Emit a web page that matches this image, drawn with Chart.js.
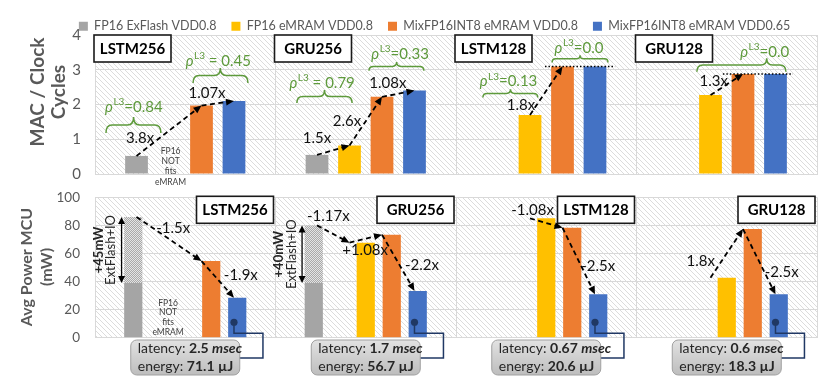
<!DOCTYPE html>
<html><head><meta charset="utf-8">
<script src="https://cdn.jsdelivr.net/npm/chart.js@4"></script>
<style>
html,body{margin:0;padding:0;background:#fff;}
#wrap{position:relative;width:831px;height:380px;overflow:hidden;}
#c1{position:absolute;left:0;top:0;}
#c2{position:absolute;left:0;top:185px;}
</style></head><body>
<div id="wrap"><canvas id="c1" width="831" height="185"></canvas><canvas id="c2" width="831" height="195"></canvas></div>
<script>
// ---------- DATA ----------
const categories = ['LSTM256', 'GRU256', 'LSTM128', 'GRU128'];
const seriesLabels = ['FP16 ExFlash VDD0.8', 'FP16 eMRAM VDD0.8', 'MixFP16INT8 eMRAM VDD0.8', 'MixFP16INT8 eMRAM VDD0.65'];
const seriesColors = ['#A5A5A5', '#FFC000', '#ED7D31', '#4472C4'];

const macFp16Flash = [0.52, 0.55, null, null];
const macFp16Mram  = [null, 0.82, 1.70, 2.27];
const macMixV08    = [1.97, 2.22, 3.09, 2.88];
const macMixV065   = [2.10, 2.40, 3.09, 2.88];
const macTicks     = [0, 1, 2, 3, 4];

const powFp16Flash  = [39, 39, null, null];
const powExtFlashIO = [47, 41, null, null];
const powFp16Mram   = [null, 67.7, 85.0, 42.7];
const powMixV08     = [54.6, 73.4, 78.3, 77.4];
const powMixV065    = [28.5, 33.3, 30.9, 30.9];
const powTicks      = [0, 20, 40, 60, 80, 100];

const latencyMs = ['2.5', '1.7', '0.67', '0.6'];
const energyUJ  = ['71.1', '56.7', '20.6', '18.3'];
const extPowerLabels = ['+45mW', '+40mW'];

// ---------- STYLE ----------
const FONT = 'Lato, "Noto Sans", sans-serif';
Chart.defaults.font.family = FONT;
Chart.defaults.color = '#595959';
const GRID = '#d9d9d9';
const GREEN = '#5E9A3C';

function mkPattern(size, draw) {
  const c = document.createElement('canvas'); c.width = c.height = size;
  const g = c.getContext('2d'); draw(g, size);
  return g.createPattern(c, 'repeat');
}
const hatchBg = mkPattern(5, (g, s) => {
  g.fillStyle = '#ffffff'; g.fillRect(0, 0, s, s);
  g.strokeStyle = '#dcdcdc'; g.lineWidth = 1;
  for (let k = -1; k <= 1; k++) { g.beginPath(); g.moveTo(k * s, 0); g.lineTo(k * s + s, s); g.stroke(); }
});
const extPattern = mkPattern(2, (g) => {
  g.fillStyle = '#e4e4e4'; g.fillRect(0, 0, 2, 2);
  g.fillStyle = '#a9a9a9'; g.fillRect(0, 0, 1, 1); g.fillRect(1, 1, 1, 1);
});

// ---------- HELPERS ----------
function slotX(chart, cat, s) {
  const xs = chart.scales.x;
  const c = xs.getPixelForValue(cat);
  const catW = xs.getPixelForValue(1) - xs.getPixelForValue(0);
  return c + (s - 1.5) * catW * 0.72 / 4;
}
function panelEdges(chart, cat) {
  const xs = chart.scales.x;
  const c = xs.getPixelForValue(cat);
  const catW = xs.getPixelForValue(1) - xs.getPixelForValue(0);
  return [c - catW / 2, c + catW / 2];
}
function vy(chart, v) { return chart.scales.y.getPixelForValue(v); }
function txt(ctx, s, x, y, font, color, align, base) {
  ctx.font = font; ctx.fillStyle = color; ctx.textAlign = align || 'center'; ctx.textBaseline = base || 'middle';
  ctx.fillText(s, x, y);
}
function rich(ctx, segs, x, y, color) {
  ctx.textBaseline = 'middle'; ctx.textAlign = 'left'; ctx.fillStyle = color;
  let cx = x;
  segs.forEach(([t, f]) => { ctx.font = f; ctx.fillText(t, cx, y); cx += ctx.measureText(t).width; });
}
function arrowHead(ctx, x0, y0, x1, y1, len, wid) {
  const a = Math.atan2(y1 - y0, x1 - x0);
  ctx.beginPath();
  ctx.moveTo(x1, y1);
  ctx.lineTo(x1 - len * Math.cos(a) + wid / 2 * Math.sin(a), y1 - len * Math.sin(a) - wid / 2 * Math.cos(a));
  ctx.lineTo(x1 - len * Math.cos(a) - wid / 2 * Math.sin(a), y1 - len * Math.sin(a) + wid / 2 * Math.cos(a));
  ctx.closePath(); ctx.fill();
}
function chain(chart, cat, pts) {
  const ctx = chart.ctx;
  ctx.save(); ctx.strokeStyle = '#000'; ctx.fillStyle = '#000'; ctx.lineWidth = 1.8;
  for (let i = 1; i < pts.length; i++) {
    const x0 = slotX(chart, cat, pts[i - 1][0]), y0 = vy(chart, pts[i - 1][1]);
    const x1 = slotX(chart, cat, pts[i][0]), y1 = vy(chart, pts[i][1]);
    const a = Math.atan2(y1 - y0, x1 - x0);
    ctx.setLineDash([5, 3.5]);
    ctx.beginPath(); ctx.moveTo(x0, y0); ctx.lineTo(x1 - 6 * Math.cos(a), y1 - 6 * Math.sin(a)); ctx.stroke();
    ctx.setLineDash([]);
    arrowHead(ctx, x0, y0, x1, y1, 8, 7);
  }
  ctx.restore();
}
function brace(chart, cat, s1, s2, st, vEnd, vTip) {
  const ctx = chart.ctx;
  const x1 = slotX(chart, cat, s1), x2 = slotX(chart, cat, s2), xt = slotX(chart, cat, st);
  const yb = vy(chart, vEnd), yt = vy(chart, vTip);
  const h = yb - yt, r = Math.min(h / 2, 6);
  const ym = yb - h / 2;
  ctx.save(); ctx.strokeStyle = GREEN; ctx.lineWidth = 1.5;
  ctx.beginPath();
  ctx.moveTo(x1, yb);
  ctx.quadraticCurveTo(x1, ym, x1 + r, ym);
  ctx.lineTo(xt - r, ym);
  ctx.quadraticCurveTo(xt, ym, xt, yt);
  ctx.quadraticCurveTo(xt, ym, xt + r, ym);
  ctx.lineTo(x2 - r, ym);
  ctx.quadraticCurveTo(x2, ym, x2, yb);
  ctx.stroke(); ctx.restore();
}
function rho(chart, cat, s, v, rest) {
  const ctx = chart.ctx;
  const fMain = '15px ' + FONT, fRho = 'italic 15px ' + FONT, fSup = '10px ' + FONT;
  ctx.font = fRho; const w1 = ctx.measureText('\u03C1').width;
  ctx.font = fSup; const w2 = ctx.measureText('L3').width;
  ctx.font = fMain; const w3 = ctx.measureText(rest).width;
  const cx = slotX(chart, cat, s), y = vy(chart, v);
  let x = cx - (w1 + w2 + w3) / 2;
  txt(ctx, '\u03C1', x, y, fRho, GREEN, 'left'); x += w1 + 0.5;
  txt(ctx, 'L3', x, y - 5, fSup, GREEN, 'left'); x += w2;
  txt(ctx, rest, x, y, fMain, GREEN, 'left');
}
function label(chart, t, cat, s, v) {
  txt(chart.ctx, t, slotX(chart, cat, s), vy(chart, v), '15px ' + FONT, '#111');
}
function nameBox(chart, cat, x, y) {
  const ctx = chart.ctx;
  ctx.save();
  ctx.fillStyle = '#fff'; ctx.fillRect(x, y, 77, 27);
  ctx.strokeStyle = '#1a1a1a'; ctx.lineWidth = 1.6; ctx.strokeRect(x, y, 77, 27);
  txt(ctx, categories[cat], x + 38.5, y + 14, 'bold 15px ' + FONT, '#000');
  ctx.restore();
}
function dotted(chart, cat, s1, s2, v) {
  const ctx = chart.ctx; const y = vy(chart, v);
  ctx.save(); ctx.strokeStyle = '#000'; ctx.lineWidth = 1.5; ctx.setLineDash([1.5, 2]);
  ctx.beginPath(); ctx.moveTo(slotX(chart, cat, s1), y); ctx.lineTo(slotX(chart, cat, s2), y); ctx.stroke();
  ctx.restore();
}
function notFits(chart, cat, s, v, lh) {
  const ctx = chart.ctx; const x = slotX(chart, cat, s); const y = vy(chart, v);
  ['FP16', 'NOT', 'fits', 'eMRAM'].forEach((t, i) => txt(ctx, t, x, y + i * lh, '8.5px ' + FONT, '#404040'));
}
function yTitle(chart, lines, xs, yc, font) {
  const ctx = chart.ctx;
  lines.forEach((t, i) => {
    ctx.save(); ctx.translate(xs[i], yc); ctx.rotate(-Math.PI / 2);
    txt(ctx, t, 0, 0, font, '#595959'); ctx.restore();
  });
}
function noPad(s) { s.paddingTop = 0; s.paddingBottom = 0; s.paddingLeft = 0; s.paddingRight = 0; }

const bgPlugin = {
  id: 'hatchBg',
  beforeDraw(chart) {
    const a = chart.chartArea, ctx = chart.ctx;
    ctx.save(); ctx.fillStyle = hatchBg; ctx.fillRect(a.left, a.top, a.right - a.left, a.bottom - a.top); ctx.restore();
  }
};
const legendFix = {
  id: 'legendFix',
  beforeLayout(chart) {
    const lg = chart.legend;
    if (lg && !lg._fixed) {
      const f = lg.fit;
      lg.fit = function () { f.call(this); this.height = 30; };
      lg._fixed = true;
    }
  }
};

// ---------- TOP CHART ----------
const topNotes = {
  id: 'topNotes',
  afterDraw(chart) {
    yTitle(chart, ['MAC / Clock', 'Cycles'], [38, 59], 92, 'bold 19px ' + FONT);
    categories.forEach((c, i) => nameBox(chart, i, panelEdges(chart, i)[0] - 1, chart.chartArea.top));
    brace(chart, 0, -0.94, 0.75, -0.09, 1.18, 1.64);
    brace(chart, 0, 1.74, 3.43, 2.58, 2.62, 3.05);
    brace(chart, 1, -0.62, 1.08, 0.23, 2.04, 2.42);
    brace(chart, 1, 1.60, 3.29, 2.45, 2.97, 3.22);
    brace(chart, 2, -0.45, 1.24, 0.40, 2.20, 2.44);
    brace(chart, 2, 1.68, 3.40, 2.54, 3.21, 3.42);
    brace(chart, 3, 0.58, 3.32, 2.73, 2.94, 3.33);
    rho(chart, 0, -0.09, 1.93, '=0.84');
    rho(chart, 0, 2.51, 3.25, ' = 0.45');
    rho(chart, 1, 0.15, 2.62, ' = 0.79');
    rho(chart, 1, 2.55, 3.45, '=0.33');
    rho(chart, 2, 0.33, 2.66, '=0.13');
    rho(chart, 2, 2.50, 3.63, '=0.0');
    rho(chart, 3, 2.66, 3.52, '=0.0');
    dotted(chart, 2, 1.46, 3.62, macMixV08[2]);
    dotted(chart, 3, 1.38, 3.54, macMixV08[3]);
    chain(chart, 0, [[0, macFp16Flash[0]], [2, macMixV08[0]], [3, macMixV065[0]]]);
    chain(chart, 1, [[0, macFp16Flash[1]], [1, macFp16Mram[1]], [2, macMixV08[1]], [3, macMixV065[1]]]);
    chain(chart, 2, [[1, macFp16Mram[2]], [2, macMixV08[2]]]);
    chain(chart, 3, [[1, macFp16Mram[3]], [2, macMixV08[3]]]);
    label(chart, '3.8x', 0, 0.11, 1.03);
    label(chart, '1.07x', 0, 2.17, 2.33);
    label(chart, '1.5x', 1, 0.0, 1.03);
    label(chart, '2.6x', 1, 0.92, 1.53);
    label(chart, '1.08x', 1, 2.18, 2.62);
    label(chart, '1.8x', 2, 0.72, 1.99);
    label(chart, '1.3x', 3, 1.10, 2.66);
    notFits(chart, 0, 1.05, 0.66, 10.3);
  }
};

const barDs = (label, data, color, extra) => Object.assign({
  label, data, backgroundColor: color, borderWidth: 0,
  categoryPercentage: 0.72, barPercentage: 0.7
}, extra || {});

new Chart(document.getElementById('c1'), {
  type: 'bar',
  data: {
    labels: categories,
    datasets: [
      barDs(seriesLabels[0], macFp16Flash, seriesColors[0]),
      barDs(seriesLabels[1], macFp16Mram, seriesColors[1]),
      barDs(seriesLabels[2], macMixV08, seriesColors[2]),
      barDs(seriesLabels[3], macMixV065, seriesColors[3])
    ]
  },
  options: {
    responsive: false, animation: false,
    layout: { padding: { left: 52, right: 14, top: 5, bottom: 11 } },
    plugins: {
      legend: { position: 'top', labels: { boxWidth: 9, boxHeight: 9, padding: 15, color: '#595959', font: { size: 12.5 } } },
      tooltip: { enabled: false }
    },
    scales: {
      x: { grid: { offset: true, color: GRID, drawTicks: false }, border: { color: GRID }, ticks: { display: false },
           afterFit: s => { s.height = 0; noPad(s); } },
      y: { min: 0, max: 4,
           afterBuildTicks: s => { s.ticks = macTicks.map(v => ({ value: v })); },
           grid: { color: GRID, drawTicks: false }, border: { display: false },
           ticks: { padding: 14, color: '#595959', font: { size: 15 } },
           afterFit: s => { s.width = 43; noPad(s); } }
    }
  },
  plugins: [legendFix, bgPlugin, topNotes]
});

// ---------- BOTTOM CHART ----------
const botNotes = {
  id: 'botNotes',
  afterDraw(chart) {
    const ctx = chart.ctx, a = chart.chartArea;
    yTitle(chart, ['Avg Power MCU', '(mW)'], [27, 47], 82, 'bold 16px ' + FONT);
    categories.forEach((c, i) => nameBox(chart, i, panelEdges(chart, i)[1] - 79, a.top - 1));
    [0, 1].forEach(i => {
      const x = slotX(chart, i, -0.46);
      const y0 = vy(chart, powFp16Flash[i]), y1 = vy(chart, powFp16Flash[i] + powExtFlashIO[i]);
      ctx.save(); ctx.strokeStyle = '#000'; ctx.fillStyle = '#000'; ctx.lineWidth = 1.3;
      ctx.beginPath(); ctx.moveTo(x, y0 - 5); ctx.lineTo(x, y1 + 5); ctx.stroke();
      arrowHead(ctx, x, y0 - 10, x, y1, 7, 7);
      arrowHead(ctx, x, y1 + 10, x, y0, 7, 7);
      ctx.restore();
      const ym = (y0 + y1) / 2;
      ctx.save(); ctx.translate(slotX(chart, i, -1.17), ym); ctx.rotate(-Math.PI / 2);
      txt(ctx, extPowerLabels[i], 0, 0, 'bold 13px ' + FONT, '#262626'); ctx.restore();
      ctx.save(); ctx.translate(slotX(chart, i, -0.79), ym); ctx.rotate(-Math.PI / 2);
      txt(ctx, 'ExtFlash+IO', 0, 0, '13px ' + FONT, '#262626'); ctx.restore();
    });
    chain(chart, 0, [[0, powFp16Flash[0] + powExtFlashIO[0]], [2, powMixV08[0]], [3, powMixV065[0]]]);
    chain(chart, 1, [[0, powFp16Flash[1] + powExtFlashIO[1]], [1, powFp16Mram[1]], [2, powMixV08[1]], [3, powMixV065[1]]]);
    chain(chart, 2, [[1, powFp16Mram[2]], [2, powMixV08[2]], [3, powMixV065[2]]]);
    chain(chart, 3, [[1, powFp16Mram[3]], [2, powMixV08[3]], [3, powMixV065[3]]]);
    label(chart, '-1.5x', 0, 1.13, 78.3);
    label(chart, '-1.9x', 0, 3.21, 44.2);
    label(chart, '-1.17x', 1, 0.35, 86.9);
    label(chart, '+1.08x', 1, 1.48, 62.5);
    label(chart, '-2.2x', 1, 3.23, 51.8);
    label(chart, '-1.08x', 2, 1.08, 91);
    label(chart, '-2.5x', 2, 3.10, 51.3);
    label(chart, '1.8x', 3, 0.70, 54.6);
    label(chart, '-2.5x', 3, 3.19, 46.6);
    notFits(chart, 0, 0.97, 24.7, 9.7);
    categories.forEach((c, i) => {
      const cx = chart.scales.x.getPixelForValue(i);
      const bx = cx - 54.5, bw = 109, by = a.bottom + 2.3, bh = 35;
      const dx = slotX(chart, i, 3), dy = vy(chart, 11);
      const rx = cx + 77.7, yA = a.bottom - 4.5, yB = a.bottom + 20.3;
      ctx.save();
      ctx.strokeStyle = '#203864'; ctx.lineWidth = 1.5;
      ctx.beginPath(); ctx.moveTo(dx, dy); ctx.lineTo(dx, yA); ctx.lineTo(rx, yA); ctx.lineTo(rx, yB); ctx.lineTo(bx + bw - 2, yB); ctx.stroke();
      ctx.fillStyle = '#203864'; ctx.beginPath(); ctx.arc(dx, dy, 3.6, 0, Math.PI * 2); ctx.fill();
      const gr = ctx.createLinearGradient(0, by, 0, by + bh);
      gr.addColorStop(0, '#e2e2e2'); gr.addColorStop(1, '#bdbdbd');
      ctx.fillStyle = gr; ctx.strokeStyle = '#a0a0a0'; ctx.lineWidth = 1;
      ctx.beginPath(); ctx.roundRect(bx, by, bw, bh, 6); ctx.fill(); ctx.stroke();
      rich(ctx, [['latency: ', '14px ' + FONT], [latencyMs[i] + ' ', 'bold 14px ' + FONT], ['msec', 'italic bold 14px ' + FONT]], bx + 7, by + 8.6, '#262626');
      rich(ctx, [['energy: ', '14px ' + FONT], [energyUJ[i] + ' \u00B5J', 'bold 14px ' + FONT]], bx + 7, by + 26.6, '#262626');
      ctx.restore();
    });
  }
};

new Chart(document.getElementById('c2'), {
  type: 'bar',
  data: {
    labels: categories,
    datasets: [
      barDs(seriesLabels[0], powFp16Flash, seriesColors[0], { stack: 'a' }),
      barDs('ExtFlash+IO', powExtFlashIO, extPattern, { stack: 'a' }),
      barDs(seriesLabels[1], powFp16Mram, seriesColors[1], { stack: 'b' }),
      barDs(seriesLabels[2], powMixV08, seriesColors[2], { stack: 'c' }),
      barDs(seriesLabels[3], powMixV065, seriesColors[3], { stack: 'd' })
    ]
  },
  options: {
    responsive: false, animation: false,
    layout: { padding: { left: 27, right: 14, top: 12.3, bottom: 42.3 } },
    plugins: { legend: { display: false }, tooltip: { enabled: false } },
    scales: {
      x: { stacked: false, grid: { offset: true, color: GRID, drawTicks: false }, border: { color: GRID }, ticks: { display: false },
           afterFit: s => { s.height = 0; noPad(s); } },
      y: { stacked: true, min: 0, max: 100,
           afterBuildTicks: s => { s.ticks = powTicks.map(v => ({ value: v })); },
           grid: { color: GRID, drawTicks: false }, border: { display: false },
           ticks: { padding: 15, color: '#595959', font: { size: 13.5 } },
           afterFit: s => { s.width = 68; noPad(s); } }
    }
  },
  plugins: [bgPlugin, botNotes]
});
</script>
</body></html>
